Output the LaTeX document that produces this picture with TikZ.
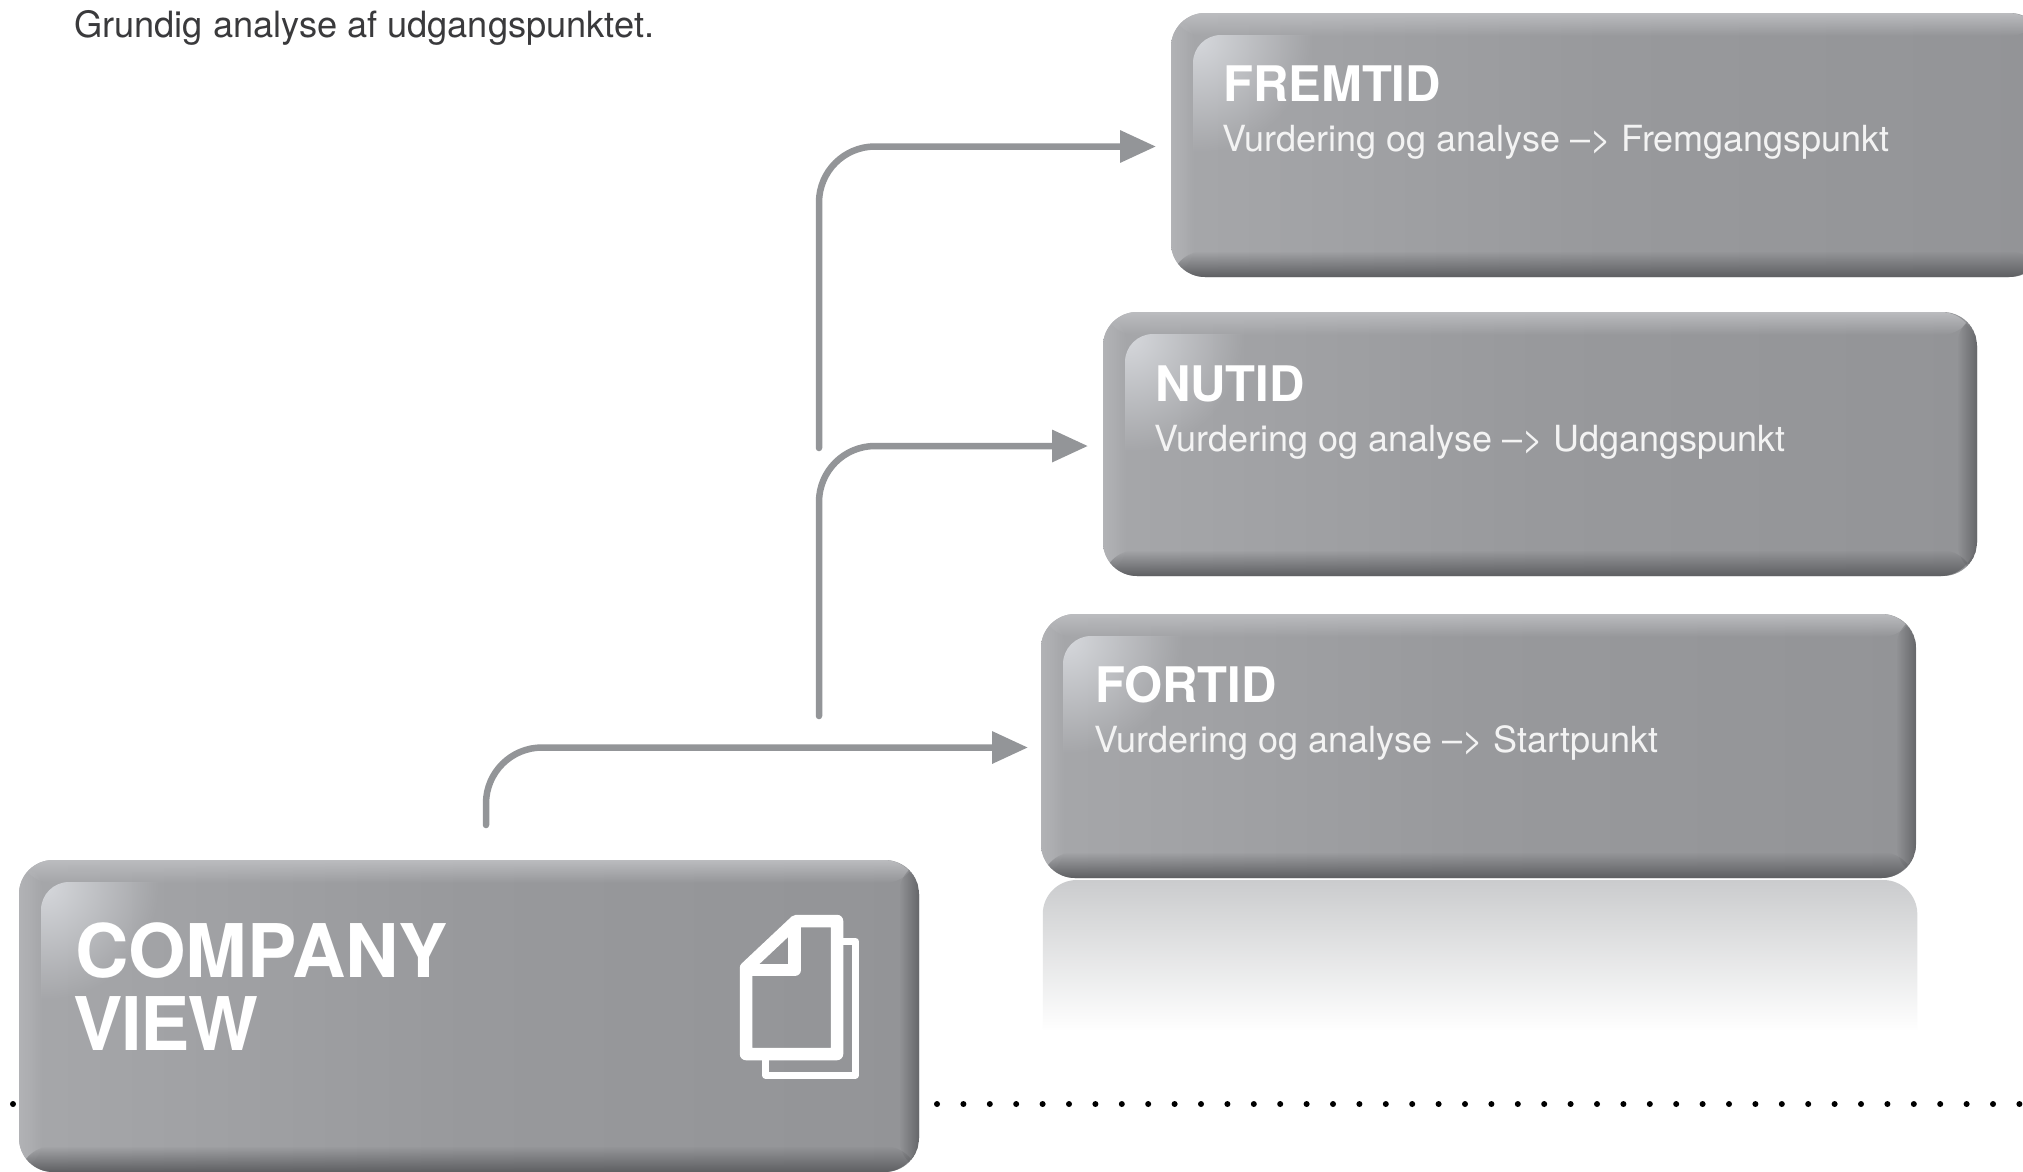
\documentclass[tikz,border=0pt]{standalone}
\usepackage{fontspec}
\setmainfont{TeX Gyre Heros}
\usetikzlibrary{fadings,arrows.meta,calc}
\definecolor{bodyL}{HTML}{A6A7AA}
\definecolor{bodyM}{HTML}{98999C}
\definecolor{bodyR}{HTML}{939497}
\definecolor{edgeT}{HTML}{BBBCBF}
\definecolor{edgeL}{HTML}{B2B3B6}
\definecolor{edgeR}{HTML}{66676A}
\definecolor{edgeB}{HTML}{5E5F62}
\definecolor{gloss}{HTML}{D6D8DC}
\definecolor{linegray}{HTML}{939598}
\definecolor{reflect}{HTML}{CBCCCE}
\definecolor{toptext}{HTML}{3A3A3C}
\tikzfading[name=fromleft, left color=transparent!0, right color=transparent!100]
\tikzfading[name=fromright, left color=transparent!100, right color=transparent!0]
\tikzfading[name=fromtop, top color=transparent!0, bottom color=transparent!100]
\tikzfading[name=frombottom, top color=transparent!100, bottom color=transparent!0]
\tikzfading[name=glossfade, inner color=transparent!0, outer color=transparent!100]
\tikzset{
  gbox/.style={rectangle, rounded corners=34pt, inner sep=0pt, outer sep=0pt, anchor=north west,
    path picture={
      \coordinate (NW) at (path picture bounding box.north west);
      \coordinate (NE) at (path picture bounding box.north east);
      \coordinate (SW) at (path picture bounding box.south west);
      \coordinate (SE) at (path picture bounding box.south east);
      \shade[left color=bodyL, right color=bodyR, middle color=bodyM] (NW) rectangle (SE);
      \fill[edgeT, path fading=fromtop] (NW) rectangle ($(NE)+(0,-23pt)$);
      \fill[edgeL, path fading=fromleft] (NW) rectangle ($(SW)+(24pt,0)$);
      \fill[edgeR, path fading=fromright] ($(NE)+(-20pt,0)$) rectangle (SE);
      \fill[edgeB, path fading=frombottom] ($(SW)+(0,26pt)$) rectangle (SE);
      \begin{scope}
        \clip[rounded corners=28pt] ($(NW)+(22pt,-22pt)$) rectangle ($(SE)+(-22pt,22pt)$);
        \fill[gloss, path fading=glossfade] ($(NW)+(-90pt,90pt)$) rectangle ($(NW)+(140pt,-140pt)$);
      \end{scope}
    }},
  conn/.style={draw=linegray, line width=6.5pt, line cap=round, rounded corners=56pt, shorten >=15pt,
    -{Triangle[length=36pt,width=31pt]}},
  ttl/.style={anchor=base west, inner sep=0pt, text=white, font=\fontsize{49pt}{49pt}\selectfont\bfseries},
  sub/.style={anchor=base west, inner sep=0pt, text=white!88!bodyM, font=\fontsize{36pt}{36pt}\selectfont},
  big/.style={anchor=base west, inner sep=0pt, text=white, font=\fontsize{74pt}{74pt}\selectfont\bfseries},
  icon/.style={draw=white, line join=round}
}
\begin{document}
\begin{tikzpicture}[x=1pt,y=-1pt]
\clip (0,0) rectangle (2023,1171);
\fill[white] (0,0) rectangle (2023,1171);
% dotted horizon
\coordinate (dotA) at (13,1104);
\coordinate (dotB) at (2023,1104);
\draw[black, line width=6pt, line cap=round, dash pattern=on 0pt off 26.4pt] (dotA) -- (dotB);
% reflection
\fill[reflect, path fading=fromtop] [sharp corners] (1043,1030) [rounded corners=34pt] -- (1043,880) -- (1918,880) [sharp corners] -- (1918,1030) -- cycle;
% boxes
\node[gbox, minimum width=873pt, minimum height=264pt] (fremtid) at (1171,13) {};
\node[gbox, minimum width=874pt, minimum height=264pt] (nutid) at (1103,312) {};
\node[gbox, minimum width=875pt, minimum height=264pt] (fortid) at (1041,614) {};
\node[gbox, minimum width=900pt, minimum height=312pt] (company) at (19,860) {};
% connector starts
\coordinate (s1) at (486,825);
\coordinate (s2) at (819,716);
\coordinate (s3) at (819,448);
\draw[conn, shorten >=13pt] (s1) |- ([yshift=-1.5pt]fortid.west);
\draw[conn] (s2) |- ([yshift=-2pt]nutid.west);
\draw[conn] (s3) |- ([yshift=-1.5pt]fremtid.west);
% texts
\node[anchor=base west, inner sep=0pt, text=toptext, font=\fontsize{36.2pt}{36.2pt}\selectfont] (intro) at (74,37) {Grundig analyse af udgangspunktet.};
\node[ttl] (t1) at (1223,101) {FREMTID};
\node[sub] (d1) at (1222,151) {Vurdering og analyse –> Fremgangspunkt};
\node[ttl] (t2) at (1155,401) {NUTID};
\node[sub] (d2) at (1154,451) {Vurdering og analyse –> Udgangspunkt};
\node[ttl] (t3) at (1095,702) {FORTID};
\node[sub] (d3) at (1094,752) {Vurdering og analyse –> Startpunkt};
\node[big] (c1) at (75,977) {COMPANY};
\node[big, font=\fontsize{74pt}{74pt}\selectfont\bfseries\addfontfeature{LetterSpace=-2}] (c2) at (73,1050) {VIEW};
% icon
\draw[icon, line width=7pt] (843,941.5) -- (855.5,941.5) -- (855.5,1075) -- (765.5,1075) -- (765.5,1060);
\draw[icon, line width=12.5pt] (746,968) -- (796,921) -- (837,921) -- (837,1054) -- (746,1054) -- cycle;
\draw[icon, line width=12.5pt] (794.7,921) -- (794.7,970) -- (746,970);
\end{tikzpicture}
\end{document}
